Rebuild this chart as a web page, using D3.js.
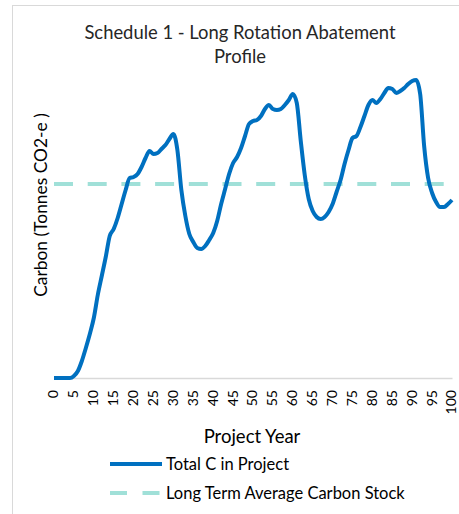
<!DOCTYPE html>
<html><head><meta charset="utf-8">
<script src="https://cdn.jsdelivr.net/npm/d3@7"></script>
<style>body{margin:0;background:#fff;} svg{display:block;}</style>
</head><body>
<script>
const years = d3.range(0, 101);
const totalC = [0,0,0,0,0,2,7,17,30,44,60,83,102,121,142,149,160,174,188,200,
201,204,211,220,227,224,225,229,233,239,244,228,188,162,144,136,130,129,132,138,
145,157,174,189,204,215,221,230,242,254,257,258,262,269,273,269,268,269,273,278,
284,275,237,203,179,167,161,159,161,166,174,186,198,214,228,240,242,251,262,273,
278,275,279,285,290,289,285,287,290,294,297,298,284,232,200,185,176,171,171,174,178];
const longTermAvg = 194;
const tickYears = d3.range(0, 101, 5);
const title = ["Schedule 1 - Long Rotation Abatement", "Profile"];
const xTitle = "Project Year";
const yTitle = "Carbon (Tonnes CO2-e )";
const seriesNames = ["Total C in Project", "Long Term Average Carbon Stock"];

const W = 459, H = 514;
const font = "Lato, 'Open Sans', sans-serif";
const svg = d3.select("body").append("svg").attr("width", W).attr("height", H);
svg.append("rect").attr("x", 12.5).attr("y", 5.5).attr("width", 470).attr("height", 530)
  .attr("fill", "#fff").attr("stroke", "#d9d9d9");

const x = d3.scaleLinear().domain([0, 100]).range([54, 452]);
const y = d3.scaleLinear().domain([0, 300]).range([378, 78]);

// title
svg.append("text").attr("x", 240).attr("y", 39).attr("text-anchor", "middle")
  .attr("font-family", font).attr("font-size", 18.4).attr("fill", "#262626").text(title[0]);
svg.append("text").attr("x", 240).attr("y", 63).attr("text-anchor", "middle")
  .attr("font-family", font).attr("font-size", 18.4).attr("fill", "#262626").text(title[1]);

// x axis
const xAxis = d3.axisBottom(x).tickValues(tickYears).tickSize(0).tickPadding(0);
const gx = svg.append("g").attr("transform", "translate(0,378)").call(xAxis);
gx.select(".domain").attr("stroke", "#d9d9d9").attr("stroke-width", 1.5);
gx.selectAll("text").attr("font-family", font).attr("font-size", 14).attr("fill", "#000")
  .attr("transform", "rotate(-90)").attr("text-anchor", "end")
  .attr("x", -12).attr("y", -1).attr("dy", "0.35em");

// axis titles
svg.append("text").attr("x", 252).attr("y", 443).attr("text-anchor", "middle")
  .attr("font-family", font).attr("font-size", 18.5).attr("fill", "#000").text(xTitle);
svg.append("text").attr("transform", "translate(47,205) rotate(-90)").attr("text-anchor", "middle")
  .attr("font-family", font).attr("font-size", 17.4).attr("fill", "#000").text(yTitle);

// average line
svg.append("line").attr("x1", x(0)).attr("x2", x(100)).attr("y1", y(longTermAvg)).attr("y2", y(longTermAvg))
  .attr("stroke", "#a0e0d8").attr("stroke-width", 4).attr("stroke-dasharray", "19,14.7");

// total line
const line = d3.line().x((d, i) => x(years[i])).y(d => y(d)).curve(d3.curveMonotoneX);
svg.append("path").datum(totalC).attr("d", line).attr("fill", "none")
  .attr("stroke", "#0070c0").attr("stroke-width", 4).attr("stroke-linejoin", "round");

// legend
svg.append("line").attr("x1", 110).attr("x2", 162).attr("y1", 464).attr("y2", 464)
  .attr("stroke", "#0070c0").attr("stroke-width", 4);
svg.append("text").attr("x", 166).attr("y", 464).attr("dy", "0.35em")
  .attr("font-family", font).attr("font-size", 16.5).attr("fill", "#000").text(seriesNames[0]);
svg.append("line").attr("x1", 110).attr("x2", 162).attr("y1", 493).attr("y2", 493)
  .attr("stroke", "#a0e0d8").attr("stroke-width", 4).attr("stroke-dasharray", "17,15.5");
svg.append("text").attr("x", 166).attr("y", 493).attr("dy", "0.35em")
  .attr("font-family", font).attr("font-size", 16.5).attr("fill", "#000").text(seriesNames[1]);
</script>
</body></html>
